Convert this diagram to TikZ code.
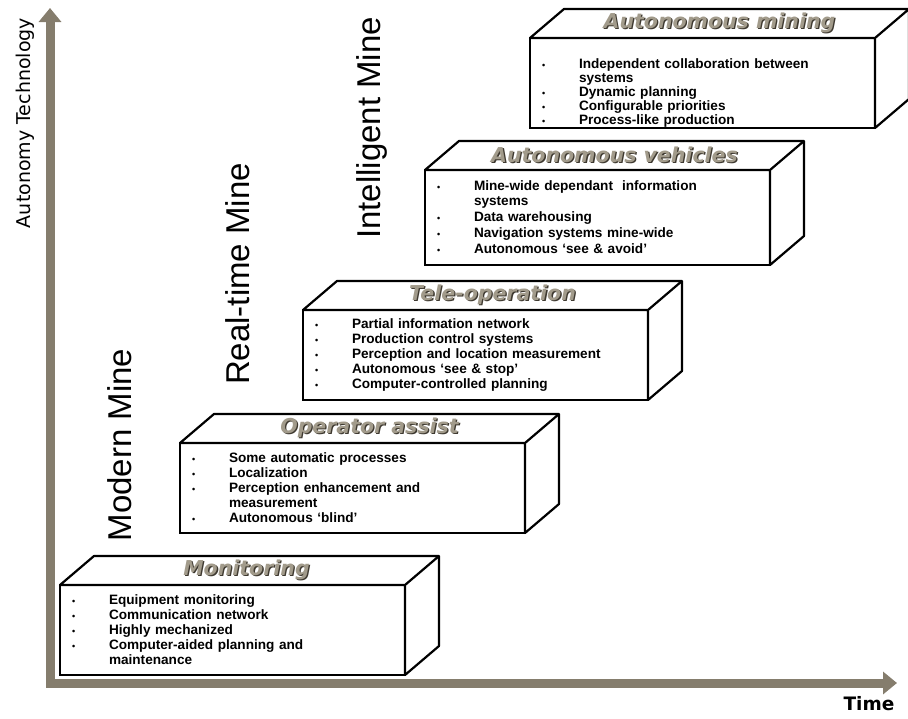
\documentclass[tikz,border=0pt]{standalone}
\usepackage{fontspec}
\setmainfont{Liberation Sans}
\newfontfamily\djv{DejaVu Sans}[ItalicFont={DejaVu Sans Oblique},BoldFont={DejaVu Sans Bold},BoldItalicFont={DejaVu Sans Bold Oblique}]
\usepackage{graphicx}
\usetikzlibrary{arrows.meta,calc,positioning}

\definecolor{axisgray}{HTML}{857D6D}
\definecolor{titlegray}{HTML}{A29B8B}
\definecolor{titleshade}{HTML}{3E3930}
\newcommand{\shadetitle}[1]{\rlap{\textcolor{titleshade}{\raisebox{-1.3pt}{\kern1.3pt#1}}}\textcolor{titlegray}{#1}}
\newcommand{\itm}{\makebox[37pt][l]{{\fontsize{9}{9}\selectfont\textbullet}}}
\newcommand{\cnt}{\hspace*{37pt}}

\tikzset{
  front/.style={draw,line width=2.2pt,fill=white,outer sep=0pt,anchor=north west,
    minimum width=345pt,minimum height=90pt,inner xsep=12pt,text width=321pt,align=left,
    font=\bfseries\fontsize{13.6}{15}\selectfont},
  face/.style={draw,line width=2.2pt,fill=white,line join=round},
  boxtitle/.style={font=\djv\bfseries\itshape\fontsize{20.5}{22}\selectfont},
  stage/.style={rotate=90,font=\fontsize{33}{36}\selectfont},
  axis/.style={draw=axisgray,line width=9pt,line cap=rect,-{Triangle[width=22pt,length=14pt]}}
}

\begin{document}
\begin{tikzpicture}[x=1pt,y=-1pt]
\useasboundingbox (0,0) rectangle (908,718);

% axes
\coordinate (origin) at (50,683);
\coordinate (ytop) at (50,8);
\coordinate (xend) at (897,683);
\draw[axis] (origin) -- (ytop);
\draw[axis] (origin) -- (xend);
\node[rotate=90,font=\djv\fontsize{19}{21}\selectfont] (ylabel) at (25,123) {Autonomy Technology};
\node[font=\djv\bfseries\fontsize{18.5}{20}\selectfont] (xlabel) at (869,704) {Time};

% stage labels
\node[stage] (modern) at (120,445) {Modern Mine};
\node[stage] (realtime) at (238,274) {Real-time Mine};
\node[stage] (intelligent) at (372,128) {Intelligent Mine};

% boxes
\node[front] (mon) at (60,585) {\itm Equipment monitoring\\
  \itm Communication network\\
  \itm Highly mechanized\\
  \itm Computer-aided planning and\\
  \cnt maintenance};
\node[front] (opa) at (180,443) {\itm Some automatic processes\\
  \itm Localization\\
  \itm Perception enhancement and\\
  \cnt measurement\\
  \itm Autonomous ‘blind’};
\node[front] (tel) at (303,310) {\itm Partial information network\\
  \itm Production control systems\\
  \itm Perception and location measurement\\
  \itm Autonomous ‘see \& stop’\\
  \itm Computer-controlled planning};
\node[front,minimum height=95pt] (veh) at (425,170) {\itm Mine-wide dependant \ information\\
  \cnt systems\\[1pt]
  \itm Data warehousing\\[1pt]
  \itm Navigation systems mine-wide\\[1pt]
  \itm Autonomous ‘see \& avoid’};
\node[front,inner ysep=0pt] (aut) at (530,38) {\rule{0pt}{30pt}\itm Independent collaboration between\\[-1.5pt]
  \cnt systems\\[-1pt]
  \itm Dynamic planning\\[-1pt]
  \itm Configurable priorities\\[-1pt]
  \itm Process-like production};

\foreach \b in {mon,opa,tel,veh,aut}
  \draw[face] (\b.north west) -- ++(34,-29) -- ($(\b.north east)+(34,-29)$)
    -- ($(\b.south east)+(34,-29)$) -- (\b.south east) -- (\b.north east) -- cycle
    (\b.north east) -- ++(34,-29);

\node[boxtitle] (mon-t) at ($(mon.north)+(14,-14.5)$) {\shadetitle{Monitoring}};
\node[boxtitle] (opa-t) at ($(opa.north)+(17,-14.5)$) {\shadetitle{Operator assist}};
\node[boxtitle] (tel-t) at ($(tel.north)+(17,-14.5)$) {\shadetitle{Tele-operation}};
\node[boxtitle] (veh-t) at ($(veh.north)+(17,-14.5)$) {\shadetitle{Autonomous vehicles}};
\node[boxtitle] (aut-t) at ($(aut.north)+(17,-14.5)$) {\shadetitle{Autonomous mining}};
\end{tikzpicture}
\end{document}
